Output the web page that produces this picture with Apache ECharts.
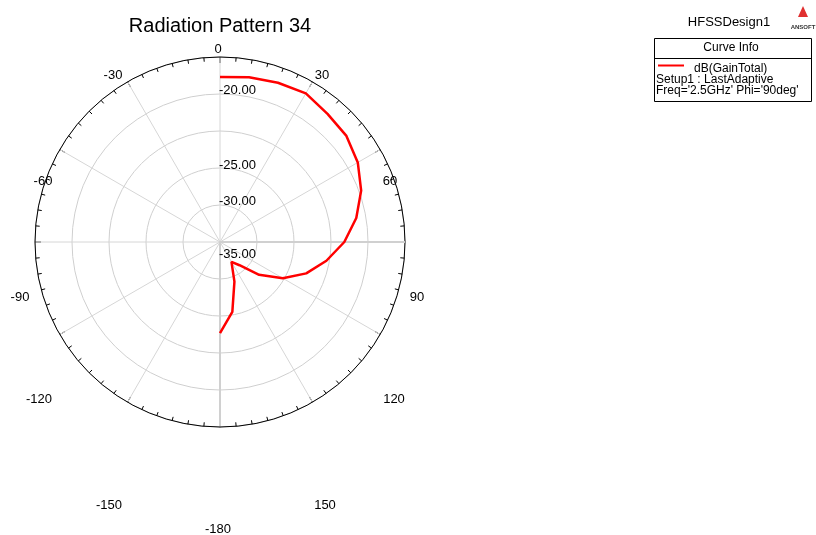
<!DOCTYPE html>
<html><head>
<meta http-equiv="Content-Type" content="text/html; charset=UTF-8">
<title>Radiation Pattern 34</title>
<script type="text/javascript" src="https://cdn.jsdelivr.net/npm/echarts@6/dist/echarts.min.js"></script>
</head>
<body style="margin:0;background:#fff;">
<div id="chart" style="width:816px;height:535px;"></div>
<script type="text/javascript">
// theta (deg) and dB(GainTotal), Phi='90deg'
var theta = [0, 10, 20, 30, 40, 50, 60, 70, 80, 90, 100, 110, 120, 130, 140, 150, 160, 170, 180];
var gainDb = [-17.7, -17.4, -17.1, -16.8, -17.4, -17.7, -18.5, -19.7, -21.3, -23.2, -25.4, -27.6, -30.2, -33.1, -35.9, -36.9, -34.3, -30.4, -27.7];
var angleLabels = ['0', '30', '-30', '60', '-60', '90', '-90', '120', '-120', '150', '-150', '-180'];
var radiusLabels = ['-20.00', '-25.00', '-30.00', '-35.00'];
var legendLines = ['dB(GainTotal)', 'Setup1 : LastAdaptive', "Freq='2.5GHz' Phi='90deg'"];

var FONT = '"Liberation Sans", Arial, sans-serif';
// where HFSS puts the labels (px, text middle)
var angleLabelPos = [[218,49],[322,75],[113,75],[390,181],[43,181],[417,297],[20,297],[394,399],[39,399],[325,505],[109,505],[218,529]];
var radiusLabelPos = [[219,90.5],[219,165],[219,201.5],[219,254]];

var curve = [];
for (var i = 0; i < theta.length; i++) { curve.push([gainDb[i], theta[i]]); }

function txt(x, y, s, size, align, extra) {
	var st = {text:s, font:(extra || '') + size + 'px ' + FONT, fill:'#000', align:align, verticalAlign:'middle'};
	return {type:'text', x:x, y:y, z:10, style:st};
}

var g = [];
for (var i = 0; i < angleLabels.length; i++) {
	g.push(txt(angleLabelPos[i][0], angleLabelPos[i][1], angleLabels[i], 13, 'center'));
}
for (var i = 0; i < radiusLabels.length; i++) {
	g.push(txt(radiusLabelPos[i][0], radiusLabelPos[i][1], radiusLabels[i], 13, 'left'));
}
// curve info box
g.push(txt(729, 22.5, 'HFSSDesign1', 13, 'center'));
g.push({type:'rect', shape:{x:654.5, y:38.5, width:157, height:63}, style:{fill:'#fff', stroke:'#000', lineWidth:1}});
g.push({type:'line', shape:{x1:654.5, y1:58.5, x2:811.5, y2:58.5}, style:{stroke:'#000', lineWidth:1}});
g.push(txt(731, 48, 'Curve Info', 12, 'center'));
g.push({type:'line', shape:{x1:658, y1:65.5, x2:684, y2:65.5}, style:{stroke:'#ff0000', lineWidth:2}});
g.push(txt(694, 68.5, legendLines[0], 12, 'left'));
g.push(txt(656, 79.5, legendLines[1], 12, 'left'));
g.push(txt(656, 90.5, legendLines[2], 12, 'left'));
// ansoft logo
g.push({type:'polygon', shape:{points:[[803,6],[798,17],[808,17]]}, style:{fill:'#e03030'}});
var logo = txt(803, 27, 'ANSOFT', 6, 'center', 'bold ');
logo.style.fill = '#333';
g.push(logo);

var option = {
	animation: false,
	title: {text:'Radiation Pattern 34', left:215, top:11, textAlign:'center',
		textStyle:{fontFamily:FONT, fontSize:20, fontWeight:'normal', color:'#000'}},
	polar: {center:[220, 242], radius:185},
	angleAxis: {
		type:'value', min:-180, max:180, interval:30, startAngle:-90, clockwise:true,
		axisLine:{show:true, lineStyle:{color:'#000', width:1}},
		axisTick:{show:true, inside:true, length:6, lineStyle:{color:'#000', width:1}},
		minorTick:{show:true, splitNumber:6, length:4, lineStyle:{color:'#000', width:1}},
		axisLabel:{show:false},
		splitLine:{show:true, lineStyle:{color:'#d6d6d6', width:1}}
	},
	radiusAxis: {
		type:'value', min:-40, max:-15, interval:5,
		axisLine:{show:true, lineStyle:{color:'#d0d0d0', width:2}},
		axisTick:{show:false},
		axisLabel:{show:false},
		splitLine:{show:true, lineStyle:{color:'#cfcfcf', width:1}}
	},
	series: [
		{type:'line', coordinateSystem:'polar', silent:true, symbol:'none', z:1,
			lineStyle:{color:'#d0d0d0', width:2}, data:[[-40, 90], [-15, 90]]},
		{type:'line', coordinateSystem:'polar', name:'dB(GainTotal)', symbol:'none', z:3,
			lineStyle:{color:'#ff0000', width:2.5}, data:curve}
	],
	graphic: g
};
var chart = echarts.init(document.getElementById('chart'));
chart.setOption(option, true);
</script>
</body>
</html>
